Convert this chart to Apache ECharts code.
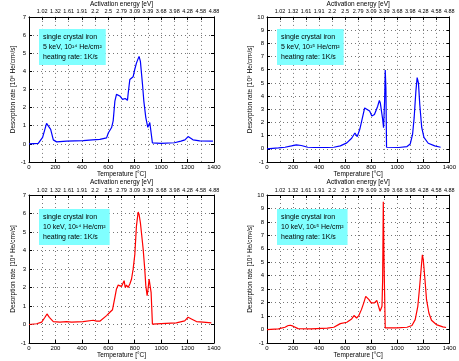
<!DOCTYPE html>
<html><head><meta charset="utf-8">
<script src="https://cdn.jsdelivr.net/npm/echarts@6/dist/echarts.min.js"></script>
<style>html,body{margin:0;padding:0;background:#fff}#c{width:459px;height:361px}</style>
</head><body><div id="c"></div>
<script>
// Top axis (activation energy) labels, at 100..1400 °C
const energyLabels = ["1.02","1.32","1.61","1.91","2.2","2.5","2.79","3.09","3.39","3.68","3.98","4.28","4.58","4.88"];

// Panel 1: 5 keV, 1e14 He/cm2 (blue)
const temp1 = [0,70,103,120,133,146,164,184,209,285,410,480,536,587,600,625,637,650,662,667,687,700,708,718,728,738,745,750,763,776,788,800,813,826,833,843,859,869,884,899,909,914,919,927,934,1000,1100,1150,1180,1204,1216,1241,1292,1392];
const rate1 = [0,0.03,0.36,0.8,1.13,1.16,0.8,0.22,0.11,0.15,0.18,0.22,0.25,0.33,0.6,0.9,1.27,2.36,2.73,2.82,2.64,2.55,2.45,2.36,2.5,2.55,2.4,2.75,3.55,3.64,3.7,4.1,4.45,4.7,4.82,4.55,3.27,2.36,1.45,0.91,0.82,1.18,0.9,0.95,0.05,0.03,0.06,0.15,0.22,0.4,0.33,0.22,0.16,0.15];

// Panel 2: 5 keV, 1e15 He/cm2 (blue)
const temp2 = [0,88,138,188,225,240,263,313,363,463,513,563,613,650,675,693,713,733,750,763,788,805,825,850,863,870,888,895,903,908,913,918,1013,1075,1100,1118,1130,1143,1153,1158,1163,1173,1188,1205,1238,1288,1333];
const rate2 = [0,0.07,0.12,0.22,0.3,0.32,0.25,0.12,0.1,0.1,0.12,0.22,0.45,0.8,1.2,0.92,1.5,2.36,3.1,3.16,2.86,2.49,2.6,3.23,3.66,3.48,2.24,1.6,3.6,5.97,4.6,0.12,0.1,0.17,0.37,1.12,2.36,4.35,5.4,5.47,4.98,3.36,1.62,0.87,0.42,0.22,0.12];

// Panel 3: 10 keV, 1e14 He/cm2 (red)
const temp3 = [0,58,96,121,136,154,184,234,285,297,322,410,486,511,536,587,612,632,650,662,675,687,700,713,720,728,738,750,763,776,788,801,813,826,833,843,851,864,876,884,894,901,909,917,924,934,1000,1115,1178,1204,1229,1267,1317,1380];
const rate3 = [0,0.04,0.13,0.39,0.57,0.39,0.16,0.13,0.16,0.21,0.13,0.16,0.23,0.18,0.18,0.48,0.66,0.8,1.47,1.92,2.13,2.19,2.06,2.13,2.37,2.0,2.13,2.0,2.19,2.46,2.99,3.8,5.32,6.08,5.95,5.5,4.96,4.07,2.99,2.1,1.56,1.92,2.46,2.49,1.74,0.02,0.05,0.09,0.2,0.39,0.3,0.16,0.13,0.09];

// Panel 4: 10 keV, 1e15 He/cm2 (red)
const temp4 = [0,88,138,163,180,200,238,338,463,513,563,613,650,668,688,705,725,743,758,770,783,800,825,843,855,868,875,883,888,893,898,903,908,1000,1075,1113,1138,1158,1170,1183,1193,1200,1213,1225,1243,1263,1300,1350,1375];
const rate4 = [0,0.05,0.17,0.3,0.32,0.25,0.07,0.05,0.1,0.17,0.44,0.54,0.79,1.04,0.86,1.04,1.48,1.98,2.47,2.59,2.22,1.98,1.98,2.17,2.1,1.36,1.48,1.73,3.7,9.5,5.43,2.7,0.12,0.12,0.17,0.3,0.74,1.73,2.96,4.44,5.56,5.19,3.7,2.22,1.23,0.69,0.37,0.2,0.15];

const panels = [
  {t: temp1, r: rate1, color: '#0000ff', ymax: 7, note: '5 keV, 10¹⁴ He/cm²', yname: 'Desorption rate [10⁸ He/cm²/s]'},
  {t: temp2, r: rate2, color: '#0000ff', ymax: 10, note: '5 keV, 10¹⁵ He/cm²', yname: 'Desorption rate [10⁹ He/cm²/s]'},
  {t: temp3, r: rate3, color: '#ff0000', ymax: 7, note: '10 keV, 10¹⁴ He/cm²', yname: 'Desorption rate [10⁸ He/cm²/s]'},
  {t: temp4, r: rate4, color: '#ff0000', ymax: 10, note: '10 keV, 10¹⁵ He/cm²', yname: 'Desorption rate [10⁹ He/cm²/s]'}
];
const boxes = [
  {left: 29, top: 15, width: 185, height: 147},
  {left: 267, top: 15, width: 189, height: 147},
  {left: 29, top: 195, width: 185, height: 148},
  {left: 267, top: 195, width: 189, height: 148}
];
const FONT = 'Liberation Sans, Arial, sans-serif';
const grid = [], xAxis = [], yAxis = [], series = [], title = [];
const gridLine = {show: true, lineStyle: {color: '#777', type: [1, 3], width: 1}};
panels.forEach((p, i) => {
  const b = boxes[i];
  grid.push(Object.assign({containLabel: false}, b));
  xAxis.push({
    gridIndex: i, type: 'value', position: 'bottom', min: 0, max: 1400, interval: 200,
    axisLine: {show: true, onZero: false, lineStyle: {color: '#000', width: 1}},
    axisTick: {show: true, inside: true, length: 3, lineStyle: {color: '#000'}},
    axisLabel: {fontSize: 6, margin: 2, color: '#000', fontFamily: FONT, formatter: v => String(v)},
    splitLine: {show: false},
    name: 'Temperature [°C]', nameLocation: 'middle', nameGap: 9,
    nameTextStyle: {fontSize: 6.5, color: '#000', fontFamily: FONT}
  });
  xAxis.push({
    gridIndex: i, type: 'value', position: 'top', min: 0, max: 1400, interval: 100,
    axisLine: {show: true, onZero: false, lineStyle: {color: '#000', width: 1}},
    axisTick: {show: true, inside: true, length: 3, lineStyle: {color: '#000'}},
    axisLabel: {fontSize: 5.5, margin: 2, color: '#000', fontFamily: FONT,
      formatter: v => (v >= 100 ? energyLabels[Math.round(v / 100) - 1] : '')},
    splitLine: gridLine,
    name: 'Activation energy [eV]', nameLocation: 'middle', nameGap: 8,
    nameTextStyle: {fontSize: 6.5, color: '#000', fontFamily: FONT}
  });
  yAxis.push({
    gridIndex: i, type: 'value', min: -1, max: p.ymax, interval: 1, position: 'left',
    axisLine: {show: true, onZero: false, lineStyle: {color: '#000', width: 1}},
    axisTick: {show: true, inside: true, length: 3, lineStyle: {color: '#000'}},
    axisLabel: {fontSize: 6, margin: 3, color: '#000', fontFamily: FONT},
    splitLine: gridLine,
    name: p.yname, nameLocation: 'middle', nameGap: 11, nameRotate: 90,
    nameTextStyle: {fontSize: 6.5, color: '#000', fontFamily: FONT}
  });
  yAxis.push({
    gridIndex: i, type: 'value', min: -1, max: p.ymax, interval: 1, position: 'right',
    axisLine: {show: true, onZero: false, lineStyle: {color: '#000', width: 1}},
    axisTick: {show: true, inside: true, length: 3, lineStyle: {color: '#000'}},
    axisLabel: {show: false}, splitLine: {show: false}
  });
  series.push({
    type: 'line', xAxisIndex: 2 * i, yAxisIndex: 2 * i, showSymbol: false, symbol: 'none',
    data: p.t.map((t, k) => [t, p.r[k]]),
    lineStyle: {color: p.color, width: 1.2}, itemStyle: {color: p.color}, animation: false
  });
  title.push({
    text: 'single crystal iron\n' + p.note + '\nheating rate: 1K/s',
    left: b.left + 10, top: b.top + 14,
    backgroundColor: '#80ffff', padding: [3, 4, 3, 4],
    textStyle: {fontSize: 7, fontWeight: 'normal', color: '#000', lineHeight: 10, fontFamily: FONT}
  });
});
const chart = echarts.init(document.getElementById('c'), null, {renderer: 'canvas'});
chart.setOption({animation: false, backgroundColor: '#fff', title, grid, xAxis, yAxis, series});
</script></body></html>
